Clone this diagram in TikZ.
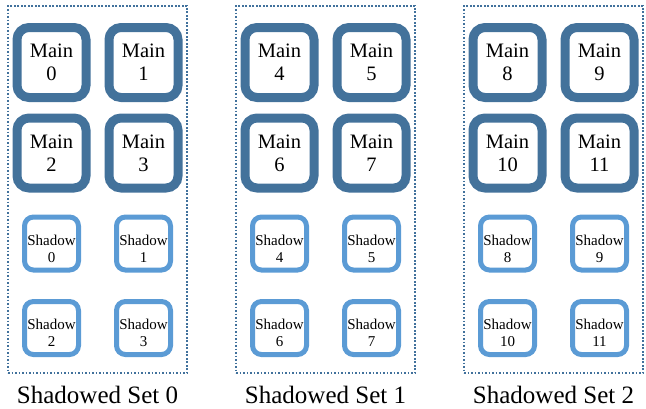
\documentclass[tikz,border=0pt]{standalone}
\usepackage{fontspec}
\setmainfont{Liberation Serif}
\usepackage{xcolor}
\usetikzlibrary{positioning}
\definecolor{maindark}{HTML}{43729B}
\definecolor{shadowlight}{HTML}{5B9BD5}
\definecolor{setdots}{HTML}{41719C}

\begin{document}
\begin{tikzpicture}[x=1pt, y=-1pt,
    mainbox/.style={draw=maindark, line width=9pt, rounded corners=12pt, minimum width=69pt, minimum height=70pt, inner sep=0pt, align=center, font=\fontsize{20.5}{23}\selectfont},
    shadowbox/.style={draw=shadowlight, line width=5pt, rounded corners=9pt, minimum width=54pt, minimum height=53pt, inner sep=0pt, align=center, text height=37pt, text depth=0pt, font=\fontsize{15}{17}\selectfont},
    setbox/.style={draw=setdots, line width=1.6pt, dash pattern=on 1.6pt off 1.9pt, minimum width=179pt, minimum height=367pt, inner sep=0pt},
    setlabel/.style={font=\fontsize{25}{29}\selectfont, anchor=base, inner sep=0pt}]
    \useasboundingbox (0,0) rectangle (646,408);

    \foreach \s/\cx in {0/97.5, 1/325.5, 2/553.5} {
        \node[setbox] (set\s) at (\cx,189.5) {};
        \node[setlabel] (label\s) at (\cx,403) {Shadowed Set \s};
        % main pairs on top, shadow pairs below
        \foreach \i/\dx/\my/\sy in {0/-46/62.5/243.5, 1/46/62.5/243.5, 2/-46/153/328, 3/46/153/328} {
            \pgfmathtruncatemacro{\n}{4*\s+\i}
            \node[mainbox] (main\n) at (\cx+\dx,\my) {Main\\\n};
            \node[shadowbox] (shadow\n) at (\cx+\dx,\sy) {Shadow\\\n};
        }
    }
\end{tikzpicture}
\end{document}
